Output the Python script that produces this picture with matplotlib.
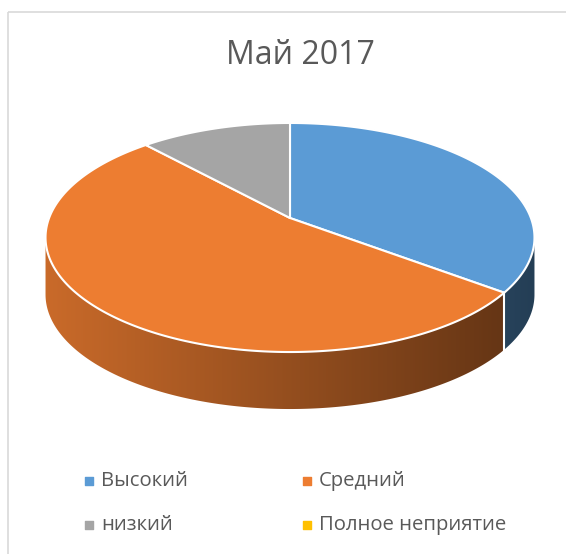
import numpy as np
import matplotlib
matplotlib.use("Agg")
import matplotlib.pyplot as plt
from matplotlib.patches import Polygon, Rectangle
from matplotlib.colors import to_rgb

px = 1. / 100

# data
title = "Май 2017"
labels = ["Высокий", "Средний", "низкий", "Полное неприятие"]
values = [6, 9, 2, 0]
colors = ["#5B9BD5", "#ED7D31", "#A5A5A5", "#FFC000"]

# pie geometry in pixel coords (perspective disc)
cx, cy = 290.0, 218.0
A, B, K = 240.9, 111.2, 0.1703
depth = 57.0
x_left, x_right = 46.0, 535.0


def rim(theta_deg, dz=0.0):
    t = np.radians(theta_deg)
    u, v = np.sin(t), np.cos(t)
    d = 1 + K * v
    return cx + A * u / d, cy - B * v / d + dz


plt.rcParams['font.family'] = ['Open Sans', 'DejaVu Sans']
fig = plt.figure(figsize=(566 * px, 554 * px), dpi=100)
ax = fig.add_axes([0, 0, 1, 1])
ax.set_xlim(0, 566)
ax.set_ylim(554, 0)
ax.axis("off")

# chart frame
ax.add_patch(Rectangle((8, 12), 600, 600, fill=False, edgecolor="#D9D9D9", lw=1.2))

ax.text(300, 55, title, ha="center", va="center", fontsize=23, color="#595959")

total = float(sum(values))
edges = np.concatenate([[0], np.cumsum(values) / total * 360.0])

# visible front part of the side wall
th_r = np.degrees(np.arccos(-K))
th_l = 360 - th_r

xs = np.linspace(0, 566, 567)
shade = 0.85 - 0.45 * np.clip((xs - x_left) / (x_right - x_left), 0, 1)

for i, val in enumerate(values):
    if val == 0:
        continue
    a, b = max(edges[i], th_r), min(edges[i + 1], th_l)
    if a >= b:
        continue
    th = np.linspace(a, b, 200)
    tx, ty = rim(th)
    bx, by = rim(th[::-1], depth)
    poly = Polygon(np.column_stack([np.r_[tx, bx], np.r_[ty, by]]),
                   closed=True, facecolor="none", edgecolor="none")
    ax.add_patch(poly)
    base = np.array(to_rgb(colors[i]))
    grad = (shade[:, None] * base[None, :])[None, :, :]
    im = ax.imshow(grad, extent=(0, 566, 554, 0), aspect="auto",
                   interpolation="bilinear", zorder=1)
    im.set_clip_path(poly)
    ax.set_xlim(0, 566)
    ax.set_ylim(554, 0)

# white vertical edges at slice boundaries on the side
for e in edges:
    if th_r < e < th_l:
        x0, y0 = rim(e)
        x1, y1 = rim(e, depth)
        ax.plot([x0, x1], [y0, y1], color="white", lw=1.5, zorder=2)

# top faces
for i, val in enumerate(values):
    if val == 0:
        continue
    th = np.linspace(edges[i], edges[i + 1], 300)
    tx, ty = rim(th)
    pts = np.column_stack([np.r_[cx, tx], np.r_[cy, ty]])
    ax.add_patch(Polygon(pts, closed=True, facecolor=colors[i],
                         edgecolor="white", lw=1.5, zorder=3, joinstyle="round"))

# legend
col_x = [85, 303]
row_y = [481, 525]
for i, lab in enumerate(labels):
    x0 = col_x[i % 2]
    y0 = row_y[i // 2]
    ax.scatter([x0 + 3.5], [y0], marker="s", s=26, color=colors[i], zorder=4)
    ax.text(x0 + 16, y0, lab, ha="left", va="center", fontsize=14.6, color="#595959")

fig.savefig("out.png", dpi=100)
